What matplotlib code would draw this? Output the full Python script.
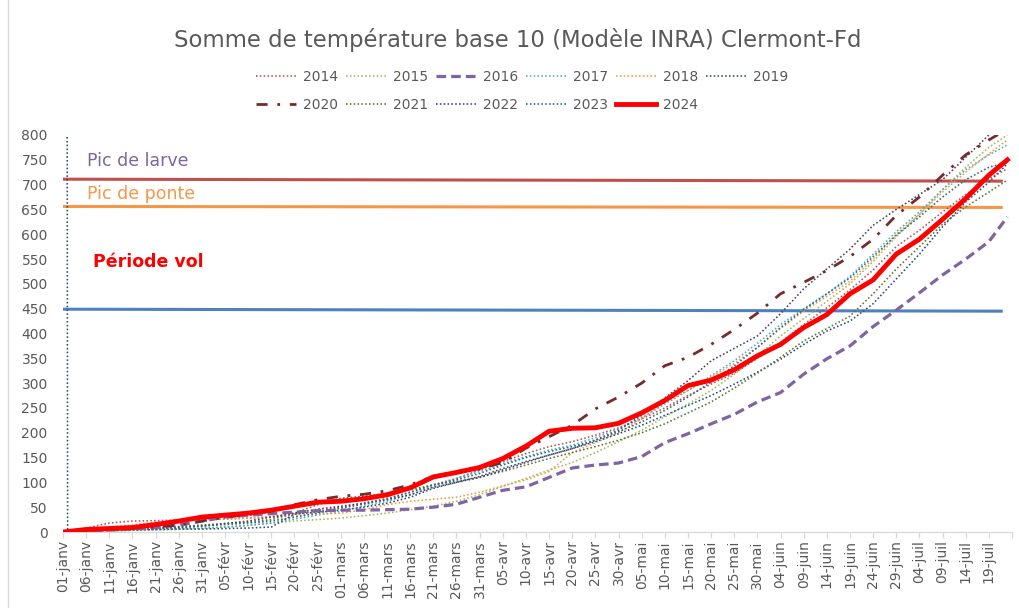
import matplotlib
matplotlib.use("Agg")
import matplotlib.pyplot as plt
from matplotlib.lines import Line2D

# ---------------- data ----------------
days = [0, 1, 5, 10, 15, 20, 25, 30, 35, 40, 45, 50, 55, 60, 65, 70, 75, 80, 85, 90,
        95, 100, 105, 110, 115, 120, 125, 130, 135, 140, 145, 150, 155, 160, 165, 170,
        175, 180, 185, 190, 195, 200, 204]

y2014 = [0, 1, 8, 18, 22, 23, 24, 25, 26, 28, 31, 36, 42, 50, 58, 68, 80, 95, 108, 125,
         142, 158, 172, 182, 195, 210, 228, 250, 275, 298, 320, 350, 382, 418, 452, 488,
         528, 575, 608, 645, 680, 712, 732]
y2015 = [0, 0, 1, 2, 3, 4, 5, 7, 10, 14, 18, 22, 25, 28, 33, 38, 45, 52, 62, 75,
         92, 108, 125, 140, 160, 182, 205, 232, 258, 285, 318, 355, 395, 430, 465, 500,
         545, 595, 640, 690, 735, 775, 800]
y2016 = [0, 1, 2, 4, 6, 9, 14, 22, 30, 34, 37, 40, 43, 44, 44, 45, 46, 50, 56, 70,
         84, 91, 110, 129, 135, 139, 152, 180, 198, 218, 237, 262, 281, 318, 349, 375,
         414, 447, 482, 518, 550, 585, 635]
y2017 = [0, 0, 2, 4, 5, 6, 7, 8, 10, 13, 18, 26, 34, 42, 52, 62, 75, 92, 108, 122,
         138, 152, 165, 175, 190, 208, 230, 258, 285, 315, 345, 380, 418, 450, 480, 515,
         560, 605, 645, 690, 730, 760, 780]
y2018 = [0, 1, 5, 10, 14, 20, 24, 26, 27, 28, 30, 33, 36, 38, 45, 55, 62, 66, 70, 80,
         93, 105, 122, 160, 180, 200, 228, 262, 285, 312, 340, 372, 410, 445, 475, 505,
         550, 600, 640, 685, 725, 762, 790]
y2019 = [8000, 1, 2, 3, 4, 5, 6, 6, 7, 8, 10, 36, 40, 44, 50, 58, 70, 88, 100, 112,
         128, 142, 155, 168, 182, 198, 215, 235, 255, 275, 298, 322, 348, 378, 405, 425,
         460, 510, 560, 615, 665, 705, 742]
y2020 = [0, 1, 4, 6, 8, 10, 14, 22, 30, 35, 42, 55, 65, 72, 76, 83, 95, 112, 122, 127,
         140, 169, 192, 215, 248, 272, 300, 335, 352, 378, 408, 441, 480, 503, 527, 555,
         590, 638, 675, 719, 760, 790, 812]
y2021 = [0, 0, 3, 5, 7, 9, 11, 14, 17, 20, 25, 38, 55, 68, 72, 78, 85, 95, 102, 110,
         122, 135, 148, 160, 172, 185, 200, 218, 240, 262, 290, 320, 352, 385, 410, 435,
         480, 530, 575, 620, 655, 685, 709]
y2022 = [0, 0, 3, 5, 6, 7, 9, 12, 17, 22, 30, 38, 46, 52, 58, 65, 75, 90, 100, 110,
         125, 140, 155, 168, 185, 205, 235, 270, 305, 345, 370, 395, 440, 490, 530, 570,
         618, 650, 680, 710, 755, 800, 830]
y2023 = [0, 0, 2, 4, 6, 8, 10, 12, 15, 18, 22, 30, 38, 48, 56, 66, 80, 95, 105, 118,
         135, 150, 162, 172, 185, 202, 222, 245, 272, 302, 335, 372, 412, 448, 480, 512,
         555, 598, 635, 675, 710, 735, 745]
y2024 = [0, 1, 5, 7, 9, 15, 22, 30, 34, 38, 44, 52, 60, 62, 67, 75, 89, 111, 120, 130,
         148, 173, 203, 209, 210, 219, 240, 265, 295, 306, 327, 355, 378, 412, 438, 480,
         508, 560, 590, 630, 672, 719, 750]

ref_days = [0, 203]
pic_larve = [711, 707]
pic_ponte = [656, 654]
periode_vol = [449, 445]

tick_days = list(range(0, 206, 5))
tick_labels = ["01-janv", "06-janv", "11-janv", "16-janv", "21-janv", "26-janv", "31-janv",
               "05-févr", "10-févr", "15-févr", "20-févr", "25-févr", "01-mars", "06-mars",
               "11-mars", "16-mars", "21-mars", "26-mars", "31-mars", "05-avr", "10-avr",
               "15-avr", "20-avr", "25-avr", "30-avr", "05-mai", "10-mai", "15-mai",
               "20-mai", "25-mai", "30-mai", "04-juin", "09-juin", "14-juin", "19-juin",
               "24-juin", "29-juin", "04-juil", "09-juil", "14-juil", "19-juil", ""]

# ---------------- figure ----------------
plt.rcParams['font.family'] = ['DejaVu Sans']
W, H = 1019, 608
fig = plt.figure(figsize=(W / 100, H / 100), dpi=100)
ax = fig.add_axes([63 / W, 1 - 532 / H, (1012 - 63) / W, (532 - 135) / H])

grey = '#595959'

# reference lines
ax.plot(ref_days, pic_larve, color='#C0504D', lw=2.2, solid_capstyle='butt', zorder=2)
ax.plot(ref_days, pic_ponte, color='#F79646', lw=2.2, solid_capstyle='butt', zorder=2)
ax.plot(ref_days, periode_vol, color='#4F81BD', lw=2.2, solid_capstyle='butt', zorder=2)

dot = (0, (1, 1.4))
series = [
    ("2014", y2014, dict(color='#C0504D', lw=1.15, ls=dot)),
    ("2015", y2015, dict(color='#9BBB59', lw=1.15, ls=dot)),
    ("2016", y2016, dict(color='#8064A2', lw=2.3, ls=(0, (3, 1.6)))),
    ("2017", y2017, dict(color='#4BACC6', lw=1.15, ls=dot)),
    ("2018", y2018, dict(color='#F79646', lw=1.15, ls=dot)),
    ("2019", y2019, dict(color='#2C4D75', lw=1.15, ls=dot)),
    ("2020", y2020, dict(color='#772C2A', lw=2.0, ls=(0, (4, 3.5, 1, 3.5)))),
    ("2021", y2021, dict(color='#5F7530', lw=1.15, ls=dot)),
    ("2022", y2022, dict(color='#4D3B62', lw=1.15, ls=dot)),
    ("2023", y2023, dict(color='#276A7C', lw=1.15, ls=dot)),
    ("2024", y2024, dict(color='#FF0000', lw=3.5, ls='-')),
]

handles = {}
for name, vals, st in series:
    z = 5 if name == "2024" else (4 if name in ("2016", "2020") else 3)
    ln, = ax.plot(days, vals, label=name, zorder=z, solid_joinstyle='round', **st)
    handles[name] = ln

ax.set_xlim(0, 205)
ax.set_ylim(0, 800)

for s in ('top', 'right', 'left'):
    ax.spines[s].set_visible(False)
ax.spines['bottom'].set_color('#D9D9D9')
ax.spines['bottom'].set_linewidth(0.9)

ax.set_yticks(range(0, 801, 50))
ax.tick_params(axis='y', length=0, pad=11, labelsize=10, labelcolor=grey)
ax.set_xticks(tick_days)
ax.set_xticklabels(tick_labels, rotation=90)
ax.tick_params(axis='x', length=4, width=0.9, color='#D9D9D9', pad=2,
               labelsize=10, labelcolor=grey)

# annotations
ax.text(5.2, 748, "Pic de larve", color='#8064A2', fontsize=12.5, va='center', ha='left')
ax.text(5.2, 681, "Pic de ponte", color='#F79646', fontsize=12.5, va='center', ha='left')
ax.text(6.5, 544, "Période vol", color='#FF0000', fontsize=12.5, fontweight='bold',
        va='center', ha='left')

# title
fig.text(518 / W, 1 - 40 / H, "Somme de température base 10 (Modèle INRA) Clermont-Fd",
         ha='center', va='center', fontsize=16.4, color=grey)

# legend (row-major order via column-major reordering)
order = ["2014", "2020", "2015", "2021", "2016", "2022", "2017", "2023", "2018", "2024", "2019"]
leg = fig.legend([handles[k] for k in order], order, loc='center',
                 bbox_to_anchor=(522 / W, 1 - 91 / H), ncol=6, frameon=False,
                 fontsize=10, handlelength=2.9, handletextpad=0.5, columnspacing=0.55,
                 labelspacing=1.0, labelcolor=grey)

# chart area border (left edge)
fig.add_artist(Line2D([8 / W, 8 / W], [0, 1], color='#D9D9D9', lw=1.0))

fig.savefig("out.png", dpi=100)
